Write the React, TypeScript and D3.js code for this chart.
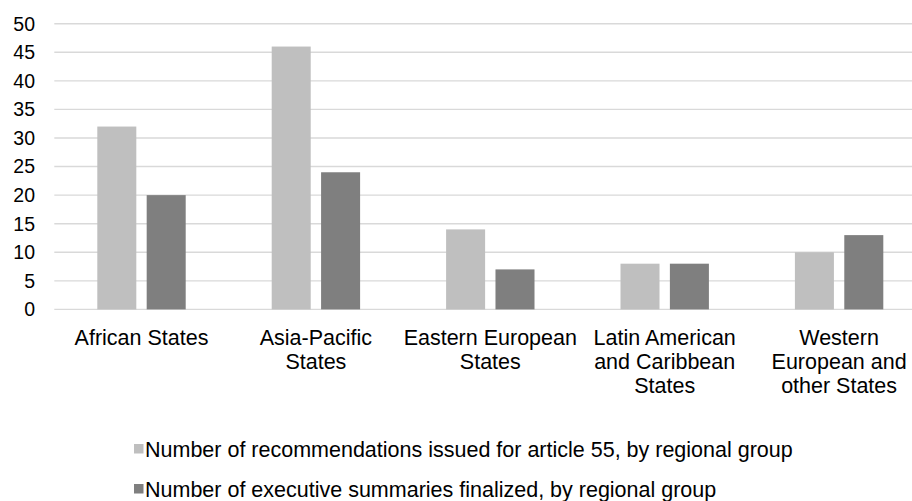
import React from "react";
import * as d3 from "d3";

// Regional groups (label lines as shown under the axis)
const categories: string[][] = [
  ["African States"],
  ["Asia-Pacific", "States"],
  ["Eastern European", "States"],
  ["Latin American", "and Caribbean", "States"],
  ["Western", "European and", "other States"],
];

const seriesNames = [
  "Number of recommendations issued for article 55, by regional group",
  "Number of executive summaries finalized, by regional group",
];

const recommendations = [32, 46, 14, 8, 10];
const summaries = [20, 24, 7, 8, 13];

const yTicks = [0, 5, 10, 15, 20, 25, 30, 35, 40, 45, 50];

const colors = ["#BFBFBF", "#7F7F7F"];

const W = 912;
const H = 501;
const FONT = "'Liberation Sans', Arial, Helvetica, sans-serif";
const TICK_SIZE = 19.5;
const LABEL_SIZE = 21.5;

export default function App() {
  const plotLeft = 54.3;
  const plotRight = 926.3;
  const y = d3.scaleLinear().domain([0, 50]).range([309.4, 23.7]);

  const keys = categories.map((c) => c.join(" "));
  const x0 = d3.scaleBand<string>().domain(keys).range([plotLeft, plotRight]).padding(0);
  const groupHalf = 44.2;
  const x1 = d3
    .scaleBand<number>()
    .domain([0, 1])
    .range([0, groupHalf * 2])
    .paddingInner(0.21)
    .paddingOuter(0);

  const series = [recommendations, summaries];

  return (
    <svg
      width={W}
      height={H}
      viewBox={`0 0 ${W} ${H}`}
      style={{ position: "absolute", left: 0, top: 0, background: "#fff", overflow: "hidden" }}
      fontFamily={FONT}
    >
      <rect x={0} y={0} width={W} height={H} fill="#fff" />
      {/* gridlines and y-axis labels */}
      {yTicks.map((t) => (
        <g key={t}>
          <line
            x1={plotLeft}
            x2={plotRight}
            y1={y(t)}
            y2={y(t)}
            stroke="#D9D9D9"
            strokeWidth={1.4}
          />
          <text
            x={35}
            y={y(t)}
            dy="0.35em"
            textAnchor="end"
            fontSize={TICK_SIZE}
            fill="#000"
          >
            {t}
          </text>
        </g>
      ))}
      {/* bars */}
      {keys.map((k, i) => {
        const cx = (x0(k) as number) + x0.bandwidth() / 2;
        const gx = cx - groupHalf;
        return (
          <g key={k}>
            {series.map((vals, s) => (
              <rect
                key={s}
                x={gx + (x1(s) as number)}
                y={y(vals[i])}
                width={x1.bandwidth()}
                height={y(0) - y(vals[i])}
                fill={colors[s]}
              />
            ))}
          </g>
        );
      })}
      {/* category labels */}
      {categories.map((lines, i) => {
        const cx = (x0(keys[i]) as number) + x0.bandwidth() / 2;
        return (
          <text key={i} textAnchor="middle" fontSize={LABEL_SIZE} fill="#000">
            {lines.map((ln, j) => (
              <tspan key={j} x={cx} y={344.5 + j * 24}>
                {ln}
              </tspan>
            ))}
          </text>
        );
      })}
      {/* legend */}
      {seriesNames.map((name, s) => {
        const cy = 449 + s * 40;
        return (
          <g key={name}>
            <rect x={134} y={cy - 5} width={9.5} height={9.5} fill={colors[s]} />
            <text x={145} y={cy} dy="0.35em" fontSize={LABEL_SIZE} fill="#000">
              {name}
            </text>
          </g>
        );
      })}
    </svg>
  );
}
